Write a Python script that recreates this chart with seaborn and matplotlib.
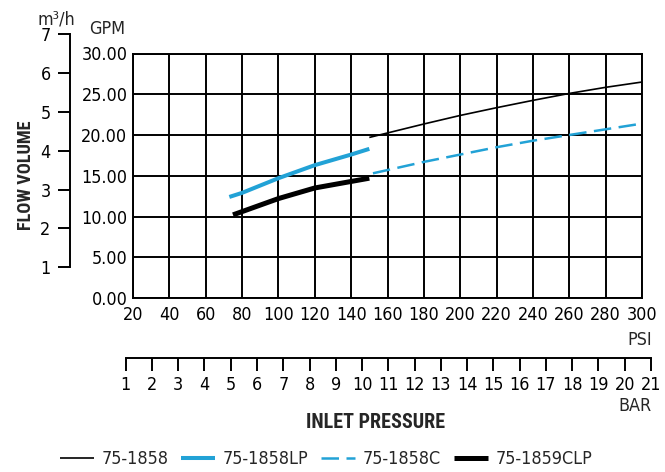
import os
import numpy as np
import pandas as pd
import matplotlib
matplotlib.use("Agg")
import matplotlib.pyplot as plt
import matplotlib.font_manager as fm
from matplotlib.textpath import TextPath
import seaborn as sns

# ---- data (PSI vs GPM) ----
psi_1858 = [150, 160, 180, 200, 220, 240, 260, 280, 300]
gpm_1858 = [19.7, 20.25, 21.35, 22.4, 23.35, 24.25, 25.1, 25.85, 26.5]

psi_1858lp = [73, 80, 100, 120, 140, 150]
gpm_1858lp = [12.4, 12.9, 14.7, 16.3, 17.6, 18.3]

psi_1858c = [152, 180, 200, 220, 240, 260, 280, 300]
gpm_1858c = [15.3, 16.7, 17.6, 18.5, 19.3, 20.0, 20.7, 21.4]

psi_1859clp = [75, 80, 100, 120, 140, 150]
gpm_1859clp = [10.2, 10.6, 12.2, 13.5, 14.3, 14.7]

psi_ticks = list(range(20, 301, 20))
gpm_ticks = [0, 5, 10, 15, 20, 25, 30]
m3h_ticks = [1, 2, 3, 4, 5, 6, 7]
bar_ticks = list(range(1, 22))

series_names = ["75-1858", "75-1858LP", "75-1858C", "75-1859CLP"]

sns.set_theme(style="white")
plt.rcParams["font.family"] = ["Liberation Sans", "DejaVu Sans"]

# ---- font choice: prefer a condensed face ----
_files = {os.path.basename(f.fname).lower(): f.fname for f in fm.fontManager.ttflist}


def _pick(cands, fallback_weight):
    for c in cands:
        if c in _files:
            return fm.FontProperties(fname=_files[c])
    return fm.FontProperties(family=["Liberation Sans", "DejaVu Sans"],
                             weight=fallback_weight)


fp_reg = _pick(["liberationsansnarrow-regular.ttf", "dejavusanscondensed.ttf",
                "notosans-semicondensed.ttf", "notosans-condensed.ttf",
                "robotocondensed-regular.ttf", "opensans-condensedregular.ttf"],
               "normal")
fp_bold = _pick(["liberationsansnarrow-bold.ttf", "notosans-condensedbold.ttf",
                 "robotocondensed-bold.ttf", "dejavusanscondensed-bold.ttf",
                 "notosans-semicondensedbold.ttf", "opensans-condensedbold.ttf"],
                "bold")


def _em(text, prop):
    ext = TextPath((0, 0), text, size=1, prop=prop).get_extents()
    return ext.width, ext.height


# regular size: digit height ~14 px but digit advance no more than ~10 px
adv = _em("0000000000", fp_reg)[0] / 10
hgt = _em("0", fp_reg)[1]
reg_px = min(14.0 / hgt, 10.0 / adv)
REG = reg_px * 0.72
# bold labels sized by their widths in the reference
inlet_px = min(138 / _em("INLET PRESSURE", fp_bold)[0], 14.5 / _em("I", fp_bold)[1])
flow_px = min(114 / _em("FLOW VOLUME", fp_bold)[0], 13 / _em("F", fp_bold)[1])


def P(base, size):
    p = base.copy()
    p.set_size(size)
    return p


fpr = P(fp_reg, REG)

BLUE = "#22a2d6"
W, H = 665, 472

fig = plt.figure(figsize=(6.65, 4.72), dpi=100)
fig.patch.set_facecolor("white")

# main plot area
x0, x1, y0, y1 = 133, 642, 53.5, 298
ax = fig.add_axes([x0 / W, (H - y1) / H, (x1 - x0) / W, (y1 - y0) / H])
ax.set_facecolor("white")

df = pd.concat([
    pd.DataFrame({"psi": psi_1858, "gpm": gpm_1858, "series": series_names[0]}),
    pd.DataFrame({"psi": psi_1858lp, "gpm": gpm_1858lp, "series": series_names[1]}),
    pd.DataFrame({"psi": psi_1858c, "gpm": gpm_1858c, "series": series_names[2]}),
    pd.DataFrame({"psi": psi_1859clp, "gpm": gpm_1859clp, "series": series_names[3]}),
])

styles = {
    "75-1858": dict(color="black", lw=1.2, ls="-"),
    "75-1858LP": dict(color=BLUE, lw=2.9, ls="-"),
    "75-1858C": dict(color=BLUE, lw=1.8, ls=(0, (7.0, 3.0))),
    "75-1859CLP": dict(color="black", lw=3.6, ls="-"),
}
for name in series_names:
    st = styles[name]
    sns.lineplot(data=df[df["series"] == name], x="psi", y="gpm", ax=ax,
                 color=st["color"], linewidth=st["lw"], linestyle=st["ls"],
                 label=name, legend=False, zorder=3, solid_capstyle="butt")

ax.set_xlim(20, 300)
ax.set_ylim(0, 30)
ax.set_xticks(psi_ticks)
ax.set_xticklabels([str(t) for t in psi_ticks])
ax.set_yticks(gpm_ticks)
ax.set_yticklabels([f"{t:.2f}" for t in gpm_ticks])
ax.set_xlabel("")
ax.set_ylabel("")
ax.grid(True, color="black", linewidth=1.4)
ax.set_axisbelow(True)
for s in ax.spines.values():
    s.set_color("black")
    s.set_linewidth(1.4)
ax.tick_params(axis="both", length=0, colors="black")
ax.tick_params(axis="x", pad=6)
ax.tick_params(axis="y", pad=4)
for lbl in ax.get_xticklabels() + ax.get_yticklabels():
    lbl.set_fontproperties(fpr)

# m3/h axis
mx, my0, my1 = 70, 34.3, 267.3
axm = fig.add_axes([mx / W, (H - my1) / H, 0.0001, (my1 - my0) / H])
axm.set_ylim(1, 7)
axm.set_yticks(m3h_ticks)
axm.set_xticks([])
axm.patch.set_alpha(0)
for k in ["top", "right", "bottom"]:
    axm.spines[k].set_visible(False)
axm.spines["left"].set_color("black")
axm.spines["left"].set_linewidth(1.4)
axm.tick_params(axis="y", direction="out", length=8.5, width=1.4, pad=5.5,
                colors="black", left=True)
for lbl in axm.get_yticklabels():
    lbl.set_fontproperties(fpr)

# BAR axis
bx0, bx1, by = 125.7, 651, 358
axb = fig.add_axes([bx0 / W, (H - by) / H, (bx1 - bx0) / W, 0.0001])
axb.set_xlim(1, 21)
axb.set_xticks(bar_ticks)
axb.set_yticks([])
axb.patch.set_alpha(0)
for k in ["top", "right", "left"]:
    axb.spines[k].set_visible(False)
axb.spines["bottom"].set_color("black")
axb.spines["bottom"].set_linewidth(1.4)
axb.tick_params(axis="x", direction="out", length=9, width=1.4, pad=4,
                colors="black", bottom=True)
for lbl in axb.get_xticklabels():
    lbl.set_fontproperties(fpr)

# texts
fig.text(56 / W, (H - 19) / H, "m³/h", ha="center", va="center", fontproperties=fpr)
fig.text(107.5 / W, (H - 29.5) / H, "GPM", ha="center", va="center", fontproperties=fpr)
fig.text(652 / W, (H - 340) / H, "PSI", ha="right", va="center", fontproperties=fpr)
fig.text(651 / W, (H - 406) / H, "BAR", ha="right", va="center", fontproperties=fpr)
fig.text(376 / W, (H - 422) / H, "INLET PRESSURE", ha="center", va="center",
         fontproperties=P(fp_bold, inlet_px * 0.72))
fig.text(26.5 / W, (H - 175) / H, "FLOW VOLUME", ha="center", va="center",
         rotation=90, fontproperties=P(fp_bold, flow_px * 0.72))

handles, labels = ax.get_legend_handles_labels()
fig.legend(handles, labels, loc="center", bbox_to_anchor=(326 / W, (H - 459) / H),
           ncol=4, frameon=False, prop=fpr, handlelength=1.9,
           handletextpad=0.45, columnspacing=0.7, borderaxespad=0)

fig.savefig("out.png", dpi=100, facecolor="white")
